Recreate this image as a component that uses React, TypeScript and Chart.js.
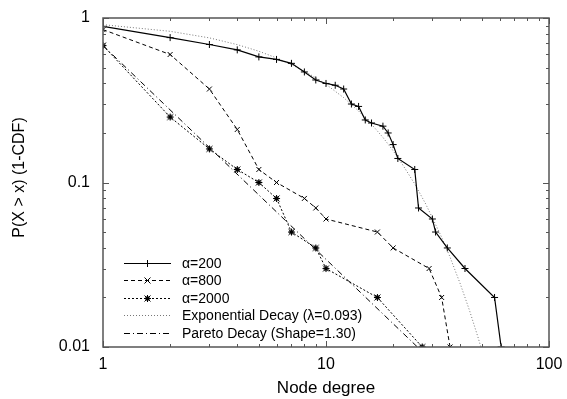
import React, { useEffect, useRef } from 'react';
import { Chart, registerables } from 'chart.js';
Chart.register(...registerables);

// ---- data ----
const a200X = [1, 2, 3, 4, 5, 6, 7, 8, 9, 10, 11, 12, 13, 14, 15, 16, 18, 19, 20, 21, 25, 26, 30, 31, 35, 42, 57, 61];
const a200Y = [0.89, 0.76, 0.69, 0.64, 0.58, 0.56, 0.53, 0.47, 0.42, 0.40, 0.39, 0.37, 0.30, 0.29, 0.24, 0.23, 0.22, 0.20, 0.17, 0.14, 0.12, 0.07, 0.06, 0.05, 0.04, 0.03, 0.02, 0.01];

const a800X = [1, 2, 3, 4, 5, 6, 8, 9, 10, 17, 20, 29, 33, 36];
const a800Y = [0.85, 0.60, 0.37, 0.21, 0.12, 0.10, 0.08, 0.07, 0.06, 0.05, 0.04, 0.03, 0.02, 0.01];

const a2000X = [1, 2, 3, 4, 5, 6, 7, 9, 10, 17, 27];
const a2000Y = [0.68, 0.25, 0.16, 0.12, 0.10, 0.08, 0.05, 0.04, 0.03, 0.02, 0.01];

// exponential decay fit curve
const expX = [1, 2, 3, 4, 5, 6, 7, 8, 9, 10, 12, 14, 16, 18, 20, 22, 25, 28, 30, 33, 36, 40, 44, 48, 49.5];
const expY = [0.911, 0.830, 0.757, 0.689, 0.628, 0.572, 0.521, 0.475, 0.433, 0.395, 0.328, 0.272, 0.226, 0.188, 0.156, 0.129, 0.098, 0.074, 0.061, 0.0465, 0.0352, 0.0242, 0.0167, 0.0115, 0.01];

// pareto decay (straight line on log-log)
const parX = [1, 25.7];
const parY = [0.68, 0.01];

const xTickValues = [1, 10, 100];
const xTickLabels = ['1', '10', '100'];
const yTickValues = [0.01, 0.1, 1];
const yTickLabels = ['0.01', '0.1', '1'];

const xTitle = 'Node degree';
const yTitle = 'P(X > x) (1-CDF)';

const seriesLabels = ['\u03b1=200', '\u03b1=800', '\u03b1=2000', 'Exponential Decay (\u03bb=0.093)', 'Pareto Decay (Shape=1.30)'];

const FONT = "'Liberation Sans', Arial, Helvetica, sans-serif";

function pts(xs: number[], ys: number[]) {
  return xs.map((x, i) => ({ x, y: ys[i] }));
}

function drawStarBox(g: CanvasRenderingContext2D, cx: number, cy: number) {
  g.save();
  g.fillStyle = '#000';
  g.strokeStyle = '#000';
  g.lineWidth = 1;
  g.fillRect(cx - 2, cy - 2, 4, 4);
  g.beginPath();
  g.moveTo(cx - 3.5, cy); g.lineTo(cx + 3.5, cy);
  g.moveTo(cx, cy - 3.5); g.lineTo(cx, cy + 3.5);
  g.moveTo(cx - 3, cy - 3); g.lineTo(cx + 3, cy + 3);
  g.moveTo(cx - 3, cy + 3); g.lineTo(cx + 3, cy - 3);
  g.stroke();
  g.restore();
}

function makeStarBoxImage() {
  const c = document.createElement('canvas');
  c.width = 9; c.height = 9;
  const g = c.getContext('2d')!;
  drawStarBox(g, 4.5, 4.5);
  return c;
}

function drawPlus(g: CanvasRenderingContext2D, cx: number, cy: number) {
  g.beginPath();
  g.moveTo(cx - 3.5, cy); g.lineTo(cx + 3.5, cy);
  g.moveTo(cx, cy - 3.5); g.lineTo(cx, cy + 3.5);
  g.stroke();
}
function drawX(g: CanvasRenderingContext2D, cx: number, cy: number) {
  g.beginPath();
  g.moveTo(cx - 3, cy - 3); g.lineTo(cx + 3, cy + 3);
  g.moveTo(cx - 3, cy + 3); g.lineTo(cx + 3, cy - 3);
  g.stroke();
}

const legendStyles = [
  { color: '#000', dash: [] as number[], width: 1.2, marker: 'plus' },
  { color: '#000', dash: [4, 3], width: 1, marker: 'x' },
  { color: '#000', dash: [2, 2], width: 1, marker: 'starbox' },
  { color: '#777', dash: [1, 2], width: 1, marker: '' },
  { color: '#000', dash: [6, 3, 1, 3], width: 1, marker: '' },
];

const framePlugin = {
  id: 'frameLegend',
  afterDraw(chart: any) {
    const { ctx, chartArea } = chart;
    const { left, right, top, bottom } = chartArea;
    const xs = chart.scales.x;
    const ys = chart.scales.y;
    ctx.save();
    ctx.strokeStyle = '#555';
    ctx.lineWidth = 1;
    ctx.setLineDash([]);
    // x ticks
    for (let d = 1; d < 100; d *= 10) {
      for (let m = 1; m <= 10; m++) {
        const v = d * m;
        if (v > 100) continue;
        const px = Math.round(xs.getPixelForValue(v)) + 0.5;
        const len = m === 1 || m === 10 ? 6 : 3;
        ctx.beginPath();
        ctx.moveTo(px, bottom); ctx.lineTo(px, bottom - len);
        ctx.moveTo(px, top); ctx.lineTo(px, top + len);
        ctx.stroke();
      }
    }
    // y ticks
    for (let d = 0.01; d < 1; d *= 10) {
      for (let m = 1; m <= 10; m++) {
        const v = d * m;
        const py = Math.round(ys.getPixelForValue(v)) + 0.5;
        const len = m === 1 || m === 10 ? 6 : 3;
        ctx.beginPath();
        ctx.moveTo(left, py); ctx.lineTo(left + len, py);
        ctx.moveTo(right, py); ctx.lineTo(right - len, py);
        ctx.stroke();
      }
    }
    ctx.lineWidth = 1.5;
    ctx.strokeRect(left, top, right - left, bottom - top);

    // y axis title (drawn here to place it exactly)
    ctx.save();
    ctx.translate(20, (top + bottom) / 2 - 5);
    ctx.rotate(-Math.PI / 2);
    ctx.fillStyle = '#000';
    ctx.font = `16px ${FONT}`;
    ctx.textAlign = 'center';
    ctx.textBaseline = 'middle';
    ctx.fillText(yTitle, 0, 0);
    ctx.restore();

    // legend
    const x0 = left + 21;
    const x1 = left + 68;
    const xm = (x0 + x1) / 2;
    const tx = left + 79;
    const yStart = bottom - 84.5;
    ctx.font = `14px ${FONT}`;
    ctx.textBaseline = 'middle';
    ctx.textAlign = 'left';
    seriesLabels.forEach((lab, i) => {
      const st = legendStyles[i];
      const yy = Math.round(yStart + i * 17.5) + 0.5;
      ctx.strokeStyle = st.color;
      ctx.lineWidth = st.width;
      ctx.setLineDash(st.dash);
      ctx.beginPath();
      ctx.moveTo(x0, yy); ctx.lineTo(x1, yy);
      ctx.stroke();
      ctx.setLineDash([]);
      ctx.strokeStyle = '#000';
      ctx.lineWidth = 1;
      if (st.marker === 'plus') drawPlus(ctx, xm, yy);
      else if (st.marker === 'x') drawX(ctx, xm, yy);
      else if (st.marker === 'starbox') drawStarBox(ctx, xm, yy);
      ctx.fillStyle = '#000';
      ctx.fillText(lab, tx, yy + 1);
    });
    ctx.restore();
  },
};

export default function App() {
  const ref = useRef<HTMLCanvasElement | null>(null);
  useEffect(() => {
    if (!ref.current) return;
    const starImg = makeStarBoxImage();
    const chart = new Chart(ref.current, {
      type: 'line',
      data: {
        datasets: [
          {
            label: seriesLabels[0],
            data: pts(a200X, a200Y),
            borderColor: '#000',
            borderWidth: 1.2,
            pointStyle: 'cross',
            pointRadius: 3.5,
            pointBorderColor: '#000',
            pointBorderWidth: 1,
            fill: false,
            tension: 0,
          },
          {
            label: seriesLabels[1],
            data: pts(a800X, a800Y),
            borderColor: '#000',
            borderWidth: 1,
            borderDash: [4, 3],
            pointStyle: 'crossRot',
            pointRadius: 3.5,
            pointBorderColor: '#000',
            pointBorderWidth: 1,
            fill: false,
            tension: 0,
          },
          {
            label: seriesLabels[2],
            data: pts(a2000X, a2000Y),
            borderColor: '#000',
            borderWidth: 1,
            borderDash: [2, 2],
            pointStyle: starImg as any,
            pointRadius: 4,
            fill: false,
            tension: 0,
          },
          {
            label: seriesLabels[3],
            data: pts(expX, expY),
            borderColor: '#777',
            borderWidth: 1,
            borderDash: [1, 2],
            pointRadius: 0,
            fill: false,
            tension: 0,
          },
          {
            label: seriesLabels[4],
            data: pts(parX, parY),
            borderColor: '#000',
            borderWidth: 1,
            borderDash: [6, 3, 1, 3],
            pointRadius: 0,
            fill: false,
            tension: 0,
          },
        ],
      },
      options: {
        animation: false,
        responsive: false,
        devicePixelRatio: 1,
        layout: { padding: { left: 0, right: 18, top: 18, bottom: 0 } },
        plugins: { legend: { display: false }, tooltip: { enabled: false } },
        scales: {
          x: {
            type: 'logarithmic',
            min: 1,
            max: 100,
            grid: { display: false, drawTicks: false },
            border: { display: false },
            afterBuildTicks: (s: any) => {
              s.ticks = xTickValues.map((v) => ({ value: v }));
            },
            afterFit: (s: any) => {
              s.height = 52;
              s.paddingLeft = 0;
              s.paddingRight = 0;
            },
            ticks: {
              autoSkip: false,
              maxRotation: 0,
              padding: 8,
              color: '#000',
              font: { family: FONT, size: 16 },
              callback: (v: any) => {
                const i = xTickValues.indexOf(Number(v));
                return i >= 0 ? xTickLabels[i] : '';
              },
            },
            title: {
              display: true,
              text: xTitle,
              color: '#000',
              font: { family: FONT, size: 17 },
              padding: { top: 0, bottom: 0 },
            },
          },
          y: {
            type: 'logarithmic',
            min: 0.01,
            max: 1,
            grid: { display: false, drawTicks: false },
            border: { display: false },
            afterBuildTicks: (s: any) => {
              s.ticks = yTickValues.map((v) => ({ value: v }));
            },
            afterFit: (s: any) => {
              s.width = 103;
              s.paddingTop = 0;
              s.paddingBottom = 0;
            },
            ticks: {
              autoSkip: false,
              padding: 13,
              color: '#000',
              font: { family: FONT, size: 16 },
              callback: (v: any) => {
                const i = yTickValues.indexOf(Number(v));
                return i >= 0 ? yTickLabels[i] : '';
              },
            },
            title: { display: false },
          },
        },
      },
      plugins: [framePlugin],
    });
    return () => chart.destroy();
  }, []);
  return (
    <div style={{ position: 'fixed', left: 0, top: 0, width: 567, height: 399, background: '#fff' }}>
      <canvas ref={ref} width={567} height={399} style={{ width: 567, height: 399, display: 'block' }} />
    </div>
  );
}
